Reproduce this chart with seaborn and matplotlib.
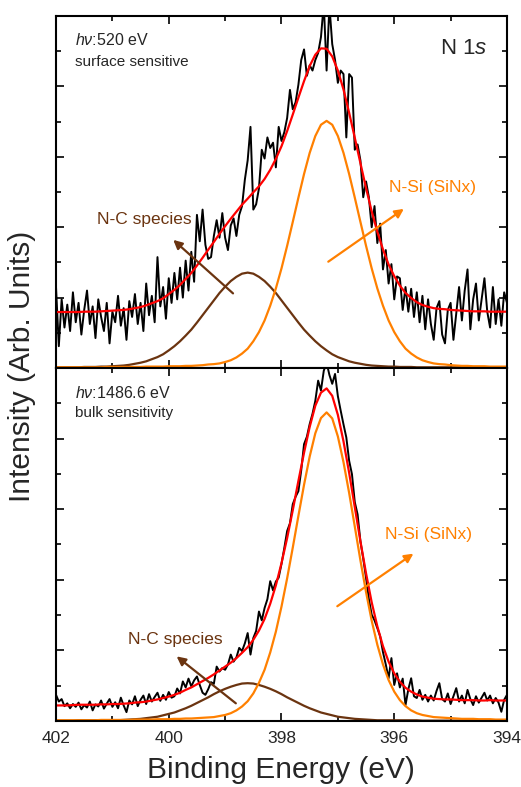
import numpy as np
import pandas as pd
import matplotlib
matplotlib.use("Agg")
import matplotlib.pyplot as plt
from matplotlib.ticker import MultipleLocator
import seaborn as sns

# ---------------------------------------------------------------- data
# Binding-energy grids (eV): fitted curves every 0.1 eV, spectra every 0.05 eV
fit_energy = np.round(np.linspace(402.0, 394.0, 81), 2)
data_energy = np.round(np.linspace(402.0, 394.0, 161), 3)

# h nu = 520 eV (surface sensitive)
surface_counts = [
    2.30, 0.62, 1.95, 1.15, 1.80, 1.05, 2.15, 1.30, 1.85, 0.95,
    1.65, 2.20, 1.25, 1.75, 0.85, 1.95, 1.45, 1.05, 1.85, 0.70,
    1.60, 1.30, 2.05, 1.20, 1.70, 0.80, 1.90, 1.45, 2.10, 1.25,
    1.85, 1.05, 2.40, 1.50, 2.05, 1.30, 3.15, 1.75, 2.30, 1.40,
    2.55, 1.85, 2.70, 1.95, 2.85, 2.00, 3.05, 2.20, 3.30, 2.45,
    4.35, 3.60, 4.50, 3.50, 3.10, 3.15, 3.75, 4.20, 3.70, 4.40,
    3.70, 3.35, 4.05, 4.25, 3.75, 4.35, 4.60, 5.35, 5.90, 6.85,
    4.50, 4.65, 5.10, 6.20, 5.95, 6.55, 6.25, 6.40, 5.70, 6.85,
    6.45, 6.70, 7.10, 7.90, 7.35, 7.55, 8.05, 8.75, 9.05, 8.30,
    8.60, 8.45, 8.75, 8.95, 9.40, 10.35, 8.45, 10.30, 9.20, 8.75,
    8.10, 8.45, 8.35, 6.55, 8.35, 8.25, 6.20, 6.35, 5.90, 4.85,
    5.30, 4.85, 4.00, 4.60, 3.55, 4.10, 2.80, 3.35, 2.40, 2.95,
    1.95, 2.60, 2.55, 1.65, 2.30, 1.60, 2.25, 1.45, 2.15, 1.30,
    2.05, 1.10, 1.95, 1.25, 0.80, 1.70, 1.90, 0.95, 0.70, 1.65,
    1.85, 0.80, 1.55, 2.30, 1.35, 2.20, 2.80, 1.10, 1.95, 2.40,
    1.35, 1.95, 2.55, 1.60, 1.15, 2.30, 1.25, 1.95, 1.20, 2.15,
    1.85,
]
surface_envelope = [
    1.59, 1.59, 1.59, 1.59, 1.59, 1.60, 1.60, 1.60, 1.61, 1.62,
    1.63, 1.64, 1.65, 1.67, 1.70, 1.73, 1.78, 1.84, 1.90, 1.98,
    2.10, 2.22, 2.36, 2.53, 2.70, 2.91, 3.13, 3.36, 3.58, 3.81,
    4.03, 4.24, 4.44, 4.64, 4.81, 4.99, 5.16, 5.37, 5.63, 5.94,
    6.30, 6.73, 7.20, 7.68, 8.15, 8.58, 8.90, 9.08, 9.07, 8.85,
    8.45, 7.91, 7.25, 6.54, 5.82, 5.11, 4.45, 3.87, 3.37, 2.94,
    2.61, 2.34, 2.13, 1.99, 1.87, 1.79, 1.74, 1.70, 1.68, 1.67,
    1.65, 1.64, 1.63, 1.62, 1.61, 1.61, 1.61, 1.60, 1.60, 1.60,
    1.60,
]
surface_nsi = [
    0.02, 0.02, 0.02, 0.02, 0.02, 0.02, 0.02, 0.02, 0.02, 0.03,
    0.03, 0.03, 0.03, 0.03, 0.03, 0.03, 0.04, 0.04, 0.04, 0.04,
    0.05, 0.05, 0.05, 0.06, 0.06, 0.07, 0.08, 0.10, 0.11, 0.13,
    0.17, 0.22, 0.30, 0.41, 0.55, 0.76, 1.02, 1.35, 1.77, 2.26,
    2.83, 3.47, 4.15, 4.84, 5.51, 6.11, 6.59, 6.91, 7.02, 6.91,
    6.59, 6.11, 5.51, 4.84, 4.15, 3.47, 2.83, 2.26, 1.77, 1.35,
    1.02, 0.76, 0.55, 0.41, 0.30, 0.22, 0.17, 0.13, 0.11, 0.10,
    0.08, 0.07, 0.06, 0.06, 0.05, 0.05, 0.05, 0.04, 0.04, 0.04,
    0.04,
]
surface_nc = [
    0.02, 0.02, 0.02, 0.02, 0.02, 0.03, 0.03, 0.03, 0.04, 0.04,
    0.05, 0.06, 0.07, 0.09, 0.12, 0.15, 0.19, 0.25, 0.31, 0.39,
    0.50, 0.62, 0.76, 0.92, 1.09, 1.29, 1.50, 1.71, 1.92, 2.13,
    2.31, 2.47, 2.59, 2.68, 2.71, 2.68, 2.59, 2.47, 2.31, 2.13,
    1.92, 1.71, 1.50, 1.29, 1.09, 0.92, 0.76, 0.62, 0.50, 0.39,
    0.31, 0.25, 0.19, 0.15, 0.12, 0.09, 0.07, 0.06, 0.05, 0.04,
    0.04, 0.03, 0.03, 0.03, 0.02, 0.02, 0.02, 0.02, 0.02, 0.02,
    0.02, 0.02, 0.02, 0.01, 0.01, 0.01, 0.01, 0.01, 0.01, 0.01,
    0.01,
]

# h nu = 1486.6 eV (bulk sensitivity)
bulk_counts = [
    0.74, 0.55, 0.62, 0.42, 0.50, 0.36, 0.48, 0.40, 0.52, 0.33,
    0.45, 0.38, 0.55, 0.30, 0.47, 0.41, 0.58, 0.35, 0.49, 0.62,
    0.40, 0.53, 0.36, 0.66, 0.44, 0.25, 0.58, 0.47, 0.70, 0.42,
    0.60, 0.72, 0.48, 0.76, 0.55, 0.68, 0.80, 0.57, 0.74, 0.60,
    0.82, 0.66, 0.70, 0.92, 0.78, 1.12, 0.95, 1.20, 0.98, 1.15,
    1.26, 1.02, 0.80, 0.74, 0.90, 1.10, 1.05, 1.54, 1.40, 1.50,
    1.45, 1.60, 1.88, 1.68, 1.80, 2.07, 1.98, 2.20, 2.49, 1.88,
    2.35, 2.55, 3.10, 2.85, 3.20, 3.45, 3.96, 3.70, 3.95, 4.06,
    4.45, 4.90, 5.38, 5.60, 6.14, 6.35, 6.51, 7.10, 7.84, 8.05,
    8.41, 8.70, 9.07, 9.64, 9.36, 9.92, 10.15, 9.80, 9.55, 9.83,
    9.20, 8.79, 8.40, 8.03, 7.37, 6.99, 6.20, 5.85, 5.09, 4.60,
    4.05, 3.45, 3.01, 2.85, 2.63, 2.40, 1.95, 1.60, 1.21, 1.78,
    1.02, 1.35, 0.95, 1.20, 0.45, 0.90, 1.21, 0.70, 0.65, 0.88,
    0.60, 0.74, 0.55, 0.72, 0.58, 0.85, 1.07, 0.62, 0.55, 0.78,
    0.48, 0.70, 0.93, 0.55, 0.72, 0.50, 0.88, 0.62, 0.45, 0.70,
    0.52, 0.66, 0.80, 0.58, 0.72, 0.50, 0.65, 0.52, 0.26, 0.60,
    0.74,
]
bulk_envelope = [
    0.44, 0.44, 0.44, 0.45, 0.46, 0.46, 0.46, 0.46, 0.47, 0.47,
    0.48, 0.48, 0.49, 0.50, 0.52, 0.53, 0.55, 0.58, 0.61, 0.65,
    0.69, 0.74, 0.80, 0.88, 0.95, 1.04, 1.13, 1.22, 1.32, 1.43,
    1.54, 1.65, 1.78, 1.93, 2.09, 2.30, 2.56, 2.89, 3.32, 3.84,
    4.47, 5.18, 5.97, 6.80, 7.60, 8.33, 8.93, 9.30, 9.42, 9.21,
    8.67, 7.92, 7.03, 6.06, 5.09, 4.18, 3.36, 2.68, 2.12, 1.68,
    1.35, 1.11, 0.94, 0.83, 0.75, 0.69, 0.66, 0.63, 0.62, 0.61,
    0.61, 0.60, 0.59, 0.59, 0.59, 0.58, 0.58, 0.59, 0.58, 0.58,
    0.58,
]
bulk_nsi = [
    0.02, 0.02, 0.02, 0.02, 0.02, 0.02, 0.02, 0.02, 0.03, 0.03,
    0.03, 0.03, 0.03, 0.03, 0.04, 0.04, 0.04, 0.04, 0.05, 0.05,
    0.05, 0.06, 0.06, 0.07, 0.07, 0.08, 0.09, 0.10, 0.11, 0.14,
    0.17, 0.22, 0.30, 0.41, 0.56, 0.78, 1.08, 1.45, 1.94, 2.53,
    3.24, 4.04, 4.91, 5.81, 6.69, 7.49, 8.15, 8.58, 8.74, 8.57,
    8.06, 7.33, 6.46, 5.51, 4.55, 3.65, 2.84, 2.16, 1.60, 1.16,
    0.83, 0.59, 0.42, 0.30, 0.22, 0.17, 0.14, 0.11, 0.10, 0.09,
    0.08, 0.07, 0.06, 0.06, 0.06, 0.05, 0.05, 0.05, 0.04, 0.04,
    0.04,
]
bulk_nc = [
    0.01, 0.01, 0.01, 0.01, 0.02, 0.02, 0.02, 0.02, 0.02, 0.02,
    0.02, 0.02, 0.03, 0.04, 0.05, 0.06, 0.08, 0.10, 0.12, 0.16,
    0.20, 0.24, 0.30, 0.36, 0.43, 0.51, 0.59, 0.67, 0.76, 0.84,
    0.91, 0.97, 1.02, 1.06, 1.07, 1.06, 1.02, 0.97, 0.91, 0.84,
    0.76, 0.67, 0.59, 0.51, 0.43, 0.36, 0.30, 0.24, 0.20, 0.16,
    0.12, 0.10, 0.08, 0.06, 0.05, 0.04, 0.03, 0.02, 0.02, 0.02,
    0.02, 0.02, 0.02, 0.02, 0.02, 0.01, 0.01, 0.01, 0.01, 0.01,
    0.01, 0.01, 0.01, 0.01, 0.01, 0.01, 0.01, 0.01, 0.01, 0.01,
    0.01,
]

x_ticks = [402, 400, 398, 396, 394]
x_tick_labels = ["402", "400", "398", "396", "394"]

# ---------------------------------------------------------------- style
sns.set_style("ticks")
plt.rcParams["font.family"] = ["Liberation Sans", "DejaVu Sans"]
plt.rcParams["mathtext.fontset"] = "custom"
plt.rcParams["mathtext.rm"] = "Liberation Sans"
plt.rcParams["mathtext.it"] = "Liberation Sans:italic"

C_DATA = "#000000"
C_FIT = "#ff0000"
C_NSI = "#ff8000"
C_NC = "#6b3410"

fig = plt.figure(figsize=(5.21, 7.87), dpi=100)
ax_top = fig.add_axes([0.1075, 0.5324, 0.8656, 0.4473])
ax_bot = fig.add_axes([0.1075, 0.0839, 0.8656, 0.4486])


def draw_panel(ax, counts, envelope, nsi, nc):
    spec = pd.DataFrame({"energy": data_energy, "counts": counts})
    fits = pd.DataFrame({"energy": fit_energy, "envelope": envelope,
                         "nsi": nsi, "nc": nc})
    sns.lineplot(data=spec, x="energy", y="counts", ax=ax, color=C_DATA,
                 lw=1.4, estimator=None, sort=False)
    sns.lineplot(data=fits, x="energy", y="nc", ax=ax, color=C_NC,
                 lw=1.6, estimator=None, sort=False)
    sns.lineplot(data=fits, x="energy", y="nsi", ax=ax, color=C_NSI,
                 lw=1.6, estimator=None, sort=False)
    sns.lineplot(data=fits, x="energy", y="envelope", ax=ax, color=C_FIT,
                 lw=1.6, estimator=None, sort=False)

    ax.set_xlim(402, 394)
    ax.set_ylim(0, 10)
    ax.set_xlabel("")
    ax.set_ylabel("")
    ax.xaxis.set_major_locator(MultipleLocator(2))
    ax.xaxis.set_minor_locator(MultipleLocator(1))
    ax.yaxis.set_major_locator(MultipleLocator(2))
    ax.yaxis.set_minor_locator(MultipleLocator(1))
    ax.tick_params(which="both", direction="in", top=True, right=True,
                   bottom=True, left=True, width=1.2, color="black")
    ax.tick_params(which="major", length=6)
    ax.tick_params(which="minor", length=3.5)
    ax.tick_params(axis="y", which="both", labelleft=False)
    for s in ax.spines.values():
        s.set_visible(True)
        s.set_linewidth(1.5)
        s.set_color("black")


draw_panel(ax_top, surface_counts, surface_envelope, surface_nsi, surface_nc)
draw_panel(ax_bot, bulk_counts, bulk_envelope, bulk_nsi, bulk_nc)

ax_top.tick_params(axis="x", which="both", labelbottom=False)
ax_bot.set_xticks(x_ticks)
ax_bot.set_xticklabels(x_tick_labels, fontsize=12.5)
ax_bot.tick_params(axis="x", which="major", pad=7)

arrow_kw = dict(arrowstyle="-|>", lw=1.6, mutation_scale=13,
                shrinkA=0, shrinkB=0)

# surface-sensitive panel annotations
ax_top.text(0.042, 0.932, "$\\mathit{h\u03bd}$:520 eV", transform=ax_top.transAxes,
            fontsize=11.5, ha="left", va="center")
ax_top.text(0.042, 0.870, "surface sensitive", transform=ax_top.transAxes,
            fontsize=11, ha="left", va="center")
ax_top.text(0.851, 0.909, "N $\\mathit{1s}$", transform=ax_top.transAxes,
            fontsize=16, ha="left", va="center")
ax_top.text(401.28, 4.23, "N-C species", color=C_NC, fontsize=12.5,
            ha="left", va="center")
ax_top.annotate("", xy=(399.92, 3.64), xytext=(398.86, 2.12),
                arrowprops=dict(color=C_NC, **arrow_kw))
ax_top.text(396.10, 5.14, "N-Si (SiNx)", color=C_NSI, fontsize=12.5,
            ha="left", va="center")
ax_top.annotate("", xy=(395.83, 4.52), xytext=(397.17, 3.02),
                arrowprops=dict(color=C_NSI, **arrow_kw))

# bulk-sensitive panel annotations
ax_bot.text(0.042, 0.929, "$\\mathit{h\u03bd}$:1486.6 eV", transform=ax_bot.transAxes,
            fontsize=11.5, ha="left", va="center")
ax_bot.text(0.042, 0.873, "bulk sensitivity", transform=ax_bot.transAxes,
            fontsize=11, ha="left", va="center")
ax_bot.text(400.72, 2.30, "N-C species", color=C_NC, fontsize=12.5,
            ha="left", va="center")
ax_bot.annotate("", xy=(399.86, 1.83), xytext=(398.81, 0.50),
                arrowprops=dict(color=C_NC, **arrow_kw))
ax_bot.text(396.17, 5.28, "N-Si (SiNx)", color=C_NSI, fontsize=12.5,
            ha="left", va="center")
ax_bot.annotate("", xy=(395.66, 4.74), xytext=(397.01, 3.25),
                arrowprops=dict(color=C_NSI, **arrow_kw))

fig.text(22 / 521, 1 - 366 / 787, "Intensity (Arb. Units)", rotation=90,
         fontsize=21.5, ha="center", va="center")
fig.text(281 / 521, 1 - 770 / 787, "Binding Energy (eV)",
         fontsize=21.5, ha="center", va="center")

fig.savefig("out.png", dpi=100)
